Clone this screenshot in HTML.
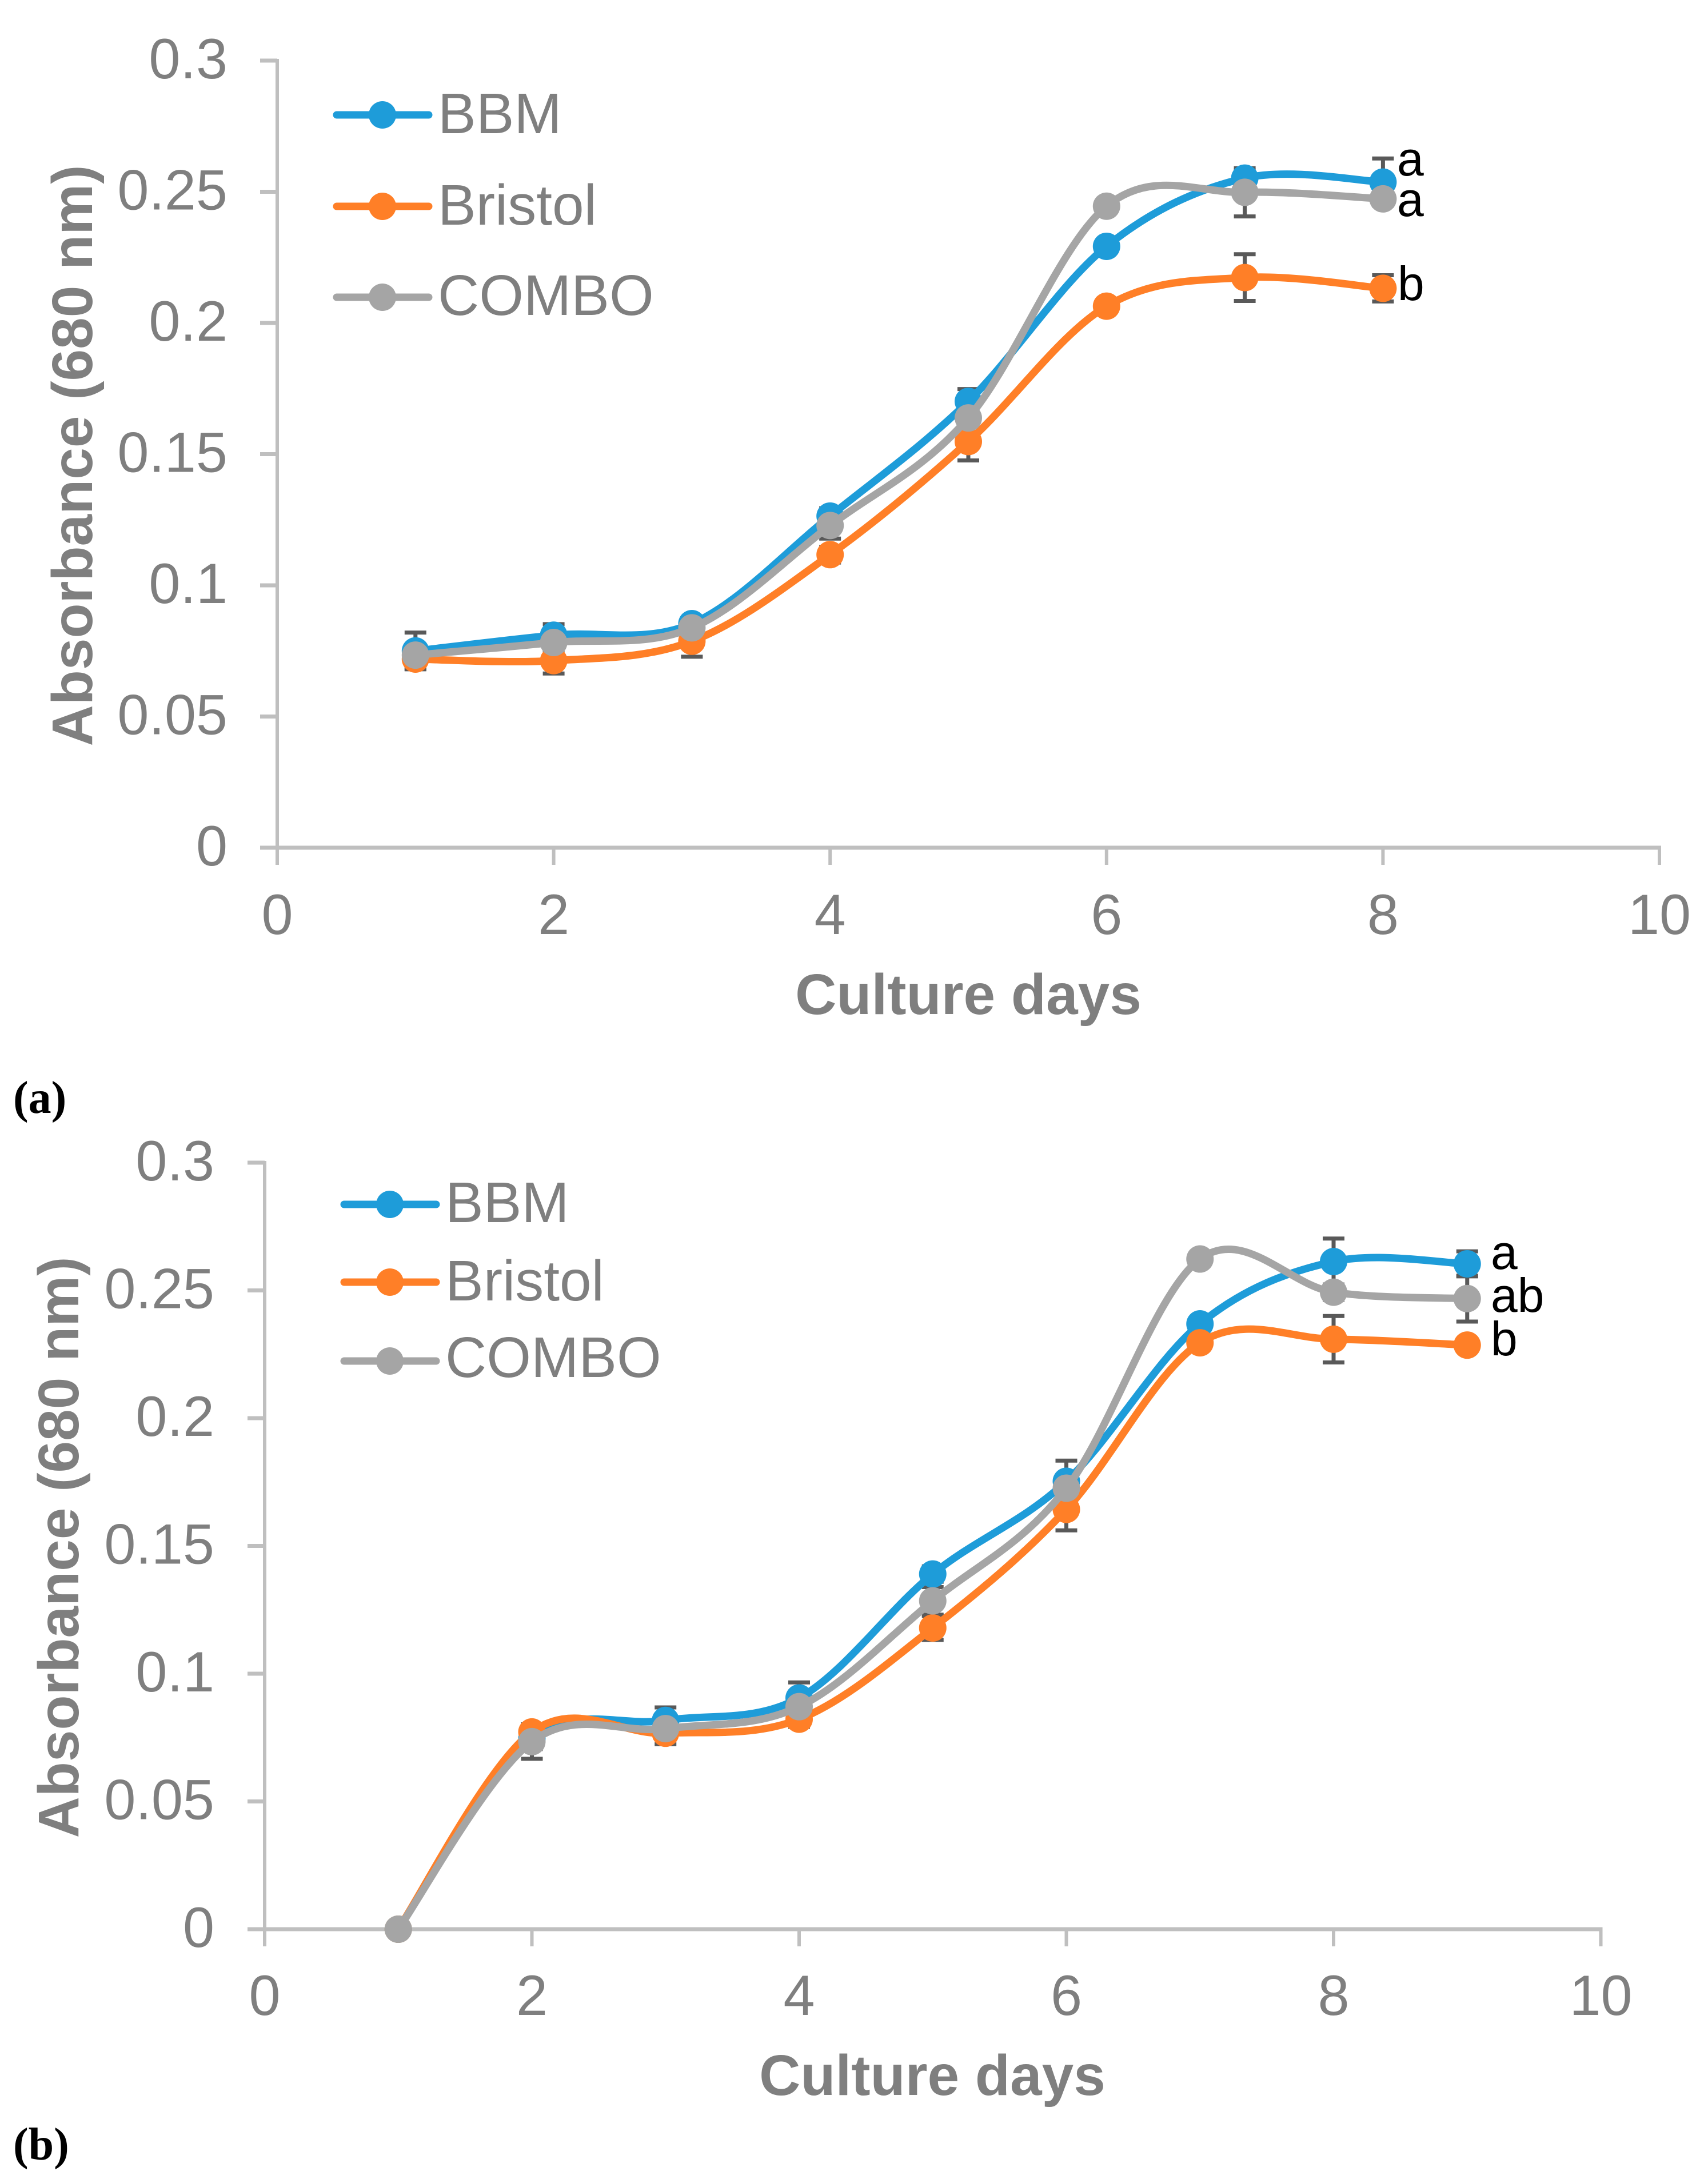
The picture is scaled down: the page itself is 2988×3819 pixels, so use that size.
<!DOCTYPE html>
<html lang="en">
<head>
<meta charset="utf-8">
<title>Absorbance growth curves</title>
<style>
  html, body { margin: 0; padding: 0; background: #ffffff; }
  svg { display: block; }
  text { font-family: "Liberation Sans", sans-serif; }
  .tick-label { font-size: 99px; fill: #7f7f7f; }
  .legend-label { font-size: 100px; fill: #7f7f7f; }
  .axis-title { font-size: 100px; font-weight: 700; fill: #7f7f7f; }
  .sig-letter { font-size: 84px; fill: #000000; }
  .panel-label { font-family: "Liberation Serif", serif; font-weight: 700; font-size: 80px; fill: #000000; }
</style>
</head>
<body>
<svg id="figure" xmlns="http://www.w3.org/2000/svg" width="2988" height="3819" viewBox="0 0 2988 3819">
  <rect x="0" y="0" width="2988" height="3819" fill="#ffffff"/>

  <g id="chart-a">
    <text class="axis-title" text-anchor="middle" transform="translate(161 797) rotate(-90)">Absorbance (680 nm)</text>
    <text class="axis-title" text-anchor="middle" x="1694" y="1774">Culture days</text>
  </g>
  <g>
    <g>
      <line x1="589" y1="201" x2="750" y2="201" stroke="#1e9cd9" stroke-width="13" stroke-linecap="round"/>
      <circle cx="669" cy="201" r="24" fill="#1e9cd9"/>
      <text class="legend-label" x="766" y="233">BBM</text>
    </g>
    <g>
      <line x1="589" y1="361" x2="750" y2="361" stroke="#ff7f27" stroke-width="13" stroke-linecap="round"/>
      <circle cx="669" cy="361" r="24" fill="#ff7f27"/>
      <text class="legend-label" x="766" y="393">Bristol</text>
    </g>
    <g>
      <line x1="589" y1="520" x2="750" y2="520" stroke="#a5a5a5" stroke-width="13" stroke-linecap="round"/>
      <circle cx="669" cy="520" r="24" fill="#a5a5a5"/>
      <text class="legend-label" x="766" y="551">COMBO</text>
    </g>
  </g>
  <text class="sig-letter" x="2444" y="307">a</text>
  <text class="sig-letter" x="2444" y="378">a</text>
  <text class="sig-letter" x="2445" y="525">b</text>
  <text class="panel-label" x="23" y="1947">(a)</text>

  <g id="chart-b">
    <text class="axis-title" text-anchor="middle" transform="translate(137 2707) rotate(-90)">Absorbance (680 nm)</text>
    <text class="axis-title" text-anchor="middle" x="1631" y="3665">Culture days</text>
  </g>
  <g>
    <g>
      <line x1="602" y1="2107" x2="763" y2="2107" stroke="#1e9cd9" stroke-width="13" stroke-linecap="round"/>
      <circle cx="682" cy="2107" r="24" fill="#1e9cd9"/>
      <text class="legend-label" x="779" y="2138">BBM</text>
    </g>
    <g>
      <line x1="602" y1="2243" x2="763" y2="2243" stroke="#ff7f27" stroke-width="13" stroke-linecap="round"/>
      <circle cx="682" cy="2243" r="24" fill="#ff7f27"/>
      <text class="legend-label" x="779" y="2275">Bristol</text>
    </g>
    <g>
      <line x1="602" y1="2381" x2="763" y2="2381" stroke="#a5a5a5" stroke-width="13" stroke-linecap="round"/>
      <circle cx="682" cy="2381" r="24" fill="#a5a5a5"/>
      <text class="legend-label" x="779" y="2409">COMBO</text>
    </g>
  </g>
  <text class="sig-letter" x="2608" y="2220">a</text>
  <text class="sig-letter" x="2608" y="2295">ab</text>
  <text class="sig-letter" x="2608" y="2371">b</text>
  <text class="panel-label" x="23" y="3778">(b)</text>
</svg>

<script>
// Shared tick values
const yTickValues = [0, 0.05, 0.1, 0.15, 0.2, 0.25, 0.3];
const yTickLabels = ["0", "0.05", "0.1", "0.15", "0.2", "0.25", "0.3"];
const xTickValues = [0, 2, 4, 6, 8, 10];
const xTickLabels = ["0", "2", "4", "6", "8", "10"];

// Chart (a)
const daysA = [1, 2, 3, 4, 5, 6, 7, 8];
const bbmA = [0.0750, 0.0810, 0.0854, 0.1264, 0.1701, 0.2292, 0.2552, 0.2537];
const bristolA = [0.0719, 0.0713, 0.0787, 0.1117, 0.1548, 0.2064, 0.2173, 0.2132];
const comboA = [0.0734, 0.0782, 0.0838, 0.1228, 0.1638, 0.2445, 0.2498, 0.2473];
const bbmErrA = [0.0070, 0.0042, 0.0020, 0.0030, 0.0047, 0.0020, 0.0030, 0.0090];
const bristolErrA = [0.0037, 0.0049, 0.0059, 0.0030, 0.0072, 0.0020, 0.0089, 0.0050];
const comboErrA = [0.0030, 0.0030, 0.0030, 0.0050, 0.0030, 0.0020, 0.0092, 0.0020];

// Chart (b)
const daysB = [1, 2, 3, 4, 5, 6, 7, 8, 9];
const bbmB = [0, 0.0745, 0.0817, 0.0905, 0.1390, 0.1753, 0.2369, 0.2613, 0.2604];
const bristolB = [0, 0.0772, 0.0767, 0.0822, 0.1179, 0.1643, 0.2295, 0.2309, 0.2286];
const comboB = [0, 0.0734, 0.0785, 0.0871, 0.1285, 0.1726, 0.2623, 0.2493, 0.2468];
const bbmErrB = [0, 0.0040, 0.0051, 0.0061, 0.0030, 0.0081, 0.0020, 0.0090, 0.0049];
const bristolErrB = [0, 0.0030, 0.0043, 0.0030, 0.0047, 0.0082, 0.0020, 0.0091, 0.0020];
const comboErrB = [0, 0.0067, 0.0030, 0.0030, 0.0054, 0.0040, 0.0020, 0.0030, 0.0090];

const SVG_NS = 'http://www.w3.org/2000/svg';
const COLOR_BBM = '#1e9cd9';
const COLOR_BRISTOL = '#ff7f27';
const COLOR_COMBO = '#a5a5a5';
const COLOR_AXIS = '#bfbfbf';
const COLOR_ERR = '#595959';

function axisX(x0, unit) { return function (d) { return x0 + unit * d; }; }
function axisY(y0, perUnit) { return function (v) { return y0 - perUnit * v; }; }

function shape(tag, parent, props) {
  const el = document.createElementNS(SVG_NS, tag);
  for (const k in props) el.setAttribute(k, props[k]);
  parent.appendChild(el);
  return el;
}

function smoothPath(pts) {
  let d = 'M' + pts[0][0] + ' ' + pts[0][1];
  for (let i = 0; i < pts.length - 1; i++) {
    const p0 = pts[Math.max(0, i - 1)];
    const p1 = pts[i];
    const p2 = pts[i + 1];
    const p3 = pts[Math.min(pts.length - 1, i + 2)];
    const c1x = p1[0] + (p2[0] - p0[0]) / 6;
    const c1y = p1[1] + (p2[1] - p0[1]) / 6;
    const c2x = p2[0] - (p3[0] - p1[0]) / 6;
    const c2y = p2[1] - (p3[1] - p1[1]) / 6;
    d += 'C' + c1x + ' ' + c1y + ' ' + c2x + ' ' + c2y + ' ' + p2[0] + ' ' + p2[1];
  }
  return d;
}

function drawAxes(parent, prefix, x, y, labelRight, xLabelBase) {
  const leftStub = x(0) - 30;
  const axisBottom = y(0) + 30;
  const yAxis = shape('line', parent, { x1: x(0), x2: x(0), y1: y(0.3) - 3, y2: axisBottom, stroke: COLOR_AXIS, 'stroke-width': 6 });
  
  
  const xAxis = shape('line', parent, { x1: leftStub, x2: x(10) + 3, y1: y(0), y2: y(0), stroke: COLOR_AXIS, 'stroke-width': 7 });
  
  

  yTickValues.forEach(function (v, i) {
    const tick = shape('line', parent, { x1: leftStub, x2: x(0), y1: y(v), y2: y(v), stroke: COLOR_AXIS, 'stroke-width': 7 });
    
    
    const label = shape('text', parent, { x: labelRight, y: y(v) + 31, class: 'tick-label', 'text-anchor': 'end' });
    label.textContent = yTickLabels[i];
    
    
  });

  xTickValues.forEach(function (d, i) {
    const tick = shape('line', parent, { x1: x(d), x2: x(d), y1: y(0), y2: axisBottom, stroke: COLOR_AXIS, 'stroke-width': 6 });
    
    
    const label = shape('text', parent, { x: x(d), y: xLabelBase, class: 'tick-label', 'text-anchor': 'middle' });
    label.textContent = xTickLabels[i];
    
    
  });
}

function drawErrors(parent, prefix, seriesName, days, values, errs, x, y) {
  days.forEach(function (d, i) {
    if (errs[i] <= 0) return;
    const px = x(d);
    const top = y(values[i] + errs[i]);
    const bottom = y(values[i] - errs[i]);
    const bar = shape('path', parent, {
      d: 'M' + px + ' ' + top + 'V' + bottom + 'M' + (px - 19) + ' ' + top + 'H' + (px + 19) + 'M' + (px - 19) + ' ' + bottom + 'H' + (px + 19),
      stroke: COLOR_ERR, 'stroke-width': 7, fill: 'none'
    });
    
    
  });
}

function drawSeries(parent, prefix, seriesName, days, values, color, x, y) {
  const g = shape('g', parent, {});
  
  

  const pts = days.map(function (d, i) { return [x(d), y(values[i])]; });
  const line = shape('path', g, { d: smoothPath(pts), fill: 'none', stroke: color, 'stroke-width': 13, 'stroke-linecap': 'round', 'stroke-linejoin': 'round' });
  
  

  days.forEach(function (d, i) {
    const point = shape('circle', g, { cx: x(d), cy: y(values[i]), r: 24, fill: color });
    
    
  });
}

// Chart (a) render
const xA = axisX(485, 241.8);
const yA = axisY(1483, 4590);
const rootA = document.getElementById('chart-a');
drawAxes(rootA, 'chart-a', xA, yA, 398, 1634);
drawErrors(rootA, 'chart-a', 'bbm', daysA, bbmA, bbmErrA, xA, yA);
drawErrors(rootA, 'chart-a', 'bristol', daysA, bristolA, bristolErrA, xA, yA);
drawErrors(rootA, 'chart-a', 'combo', daysA, comboA, comboErrA, xA, yA);
drawSeries(rootA, 'chart-a', 'bbm', daysA, bbmA, COLOR_BBM, xA, yA);
drawSeries(rootA, 'chart-a', 'bristol', daysA, bristolA, COLOR_BRISTOL, xA, yA);
drawSeries(rootA, 'chart-a', 'combo', daysA, comboA, COLOR_COMBO, xA, yA);

// Chart (b) render
const xB = axisX(463, 233.75);
const yB = axisY(3375, 4470);
const rootB = document.getElementById('chart-b');
drawAxes(rootB, 'chart-b', xB, yB, 375, 3525);
drawErrors(rootB, 'chart-b', 'bbm', daysB, bbmB, bbmErrB, xB, yB);
drawErrors(rootB, 'chart-b', 'bristol', daysB, bristolB, bristolErrB, xB, yB);
drawErrors(rootB, 'chart-b', 'combo', daysB, comboB, comboErrB, xB, yB);
drawSeries(rootB, 'chart-b', 'bbm', daysB, bbmB, COLOR_BBM, xB, yB);
drawSeries(rootB, 'chart-b', 'bristol', daysB, bristolB, COLOR_BRISTOL, xB, yB);
drawSeries(rootB, 'chart-b', 'combo', daysB, comboB, COLOR_COMBO, xB, yB);
</script>
</body>
</html>
